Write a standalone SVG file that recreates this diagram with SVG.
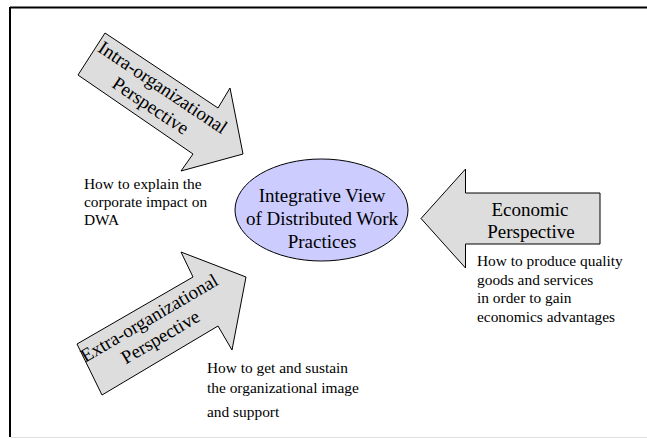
<svg xmlns="http://www.w3.org/2000/svg" width="647" height="439" viewBox="0 0 647 439">
<defs>
<style>
.arrow{fill:#dddddd;stroke:#000;stroke-width:1}
.big{font-size:19px;fill:#000;text-anchor:middle}
.note{font-size:15.4px;fill:#000}
</style>
</defs>
<rect width="647" height="439" fill="#fff"/>
<g id="frame">
<line x1="10" y1="7.5" x2="647" y2="7.5" stroke="#000" stroke-width="2"/>
<line x1="10" y1="7" x2="10" y2="437" stroke="#000" stroke-width="2"/>
<line x1="11" y1="437.5" x2="647" y2="437.5" stroke="#e0e0e0" stroke-width="1"/>
</g>
<g font-family="Liberation Serif, Times New Roman, serif">
<g id="connectors">
<g id="intra">
<polygon class="arrow" points="105,33 218,108 230,88 243,154 181,171 193,154 78,75"/>
<g transform="translate(156.5,96.8) rotate(33.8)">
<text class="big" x="0" y="-5">Intra-organizational</text>
<text class="big" x="0" y="17">Perspective</text>
</g>
</g>
<g id="extra">
<polygon class="arrow" points="77,344 193,277 181,252 246,277 232,350 218,326 102,395"/>
<g transform="translate(154,326) rotate(-30.4)">
<text class="big" x="0" y="-3">Extra-organizational</text>
<text class="big" x="0" y="19">Perspective</text>
</g>
</g>
<g id="economic">
<polygon class="arrow" points="421,218.5 465.5,169 465.5,193 600,193 600,244 465.5,244 465.5,268"/>
<text class="big" x="530" y="216">Economic</text>
<text class="big" x="531" y="237.5">Perspective</text>
</g>
</g>
<g id="center">
<ellipse cx="321.5" cy="210" rx="86.5" ry="51" fill="#ccccff" stroke="#000" stroke-width="1"/>
<text class="big" x="322" y="201.5">Integrative View</text>
<text class="big" x="322" y="225">of Distributed Work</text>
<text class="big" x="322" y="248">Practices</text>
</g>
<g id="note-intra">
<text class="note" x="84" y="189">How to explain the</text>
<text class="note" x="84" y="207">corporate impact on</text>
<text class="note" x="84" y="225">DWA</text>
</g>
<g id="note-extra">
<text class="note" x="207" y="373">How to get and sustain</text>
<text class="note" x="207" y="393">the organizational image</text>
<text class="note" x="207" y="417">and support</text>
</g>
<g id="note-economic">
<text class="note" x="477" y="266">How to produce quality</text>
<text class="note" x="477" y="284.5">goods and services</text>
<text class="note" x="477" y="303">in order to gain</text>
<text class="note" x="477" y="321.5">economics advantages</text>
</g>
</g>
</svg>
